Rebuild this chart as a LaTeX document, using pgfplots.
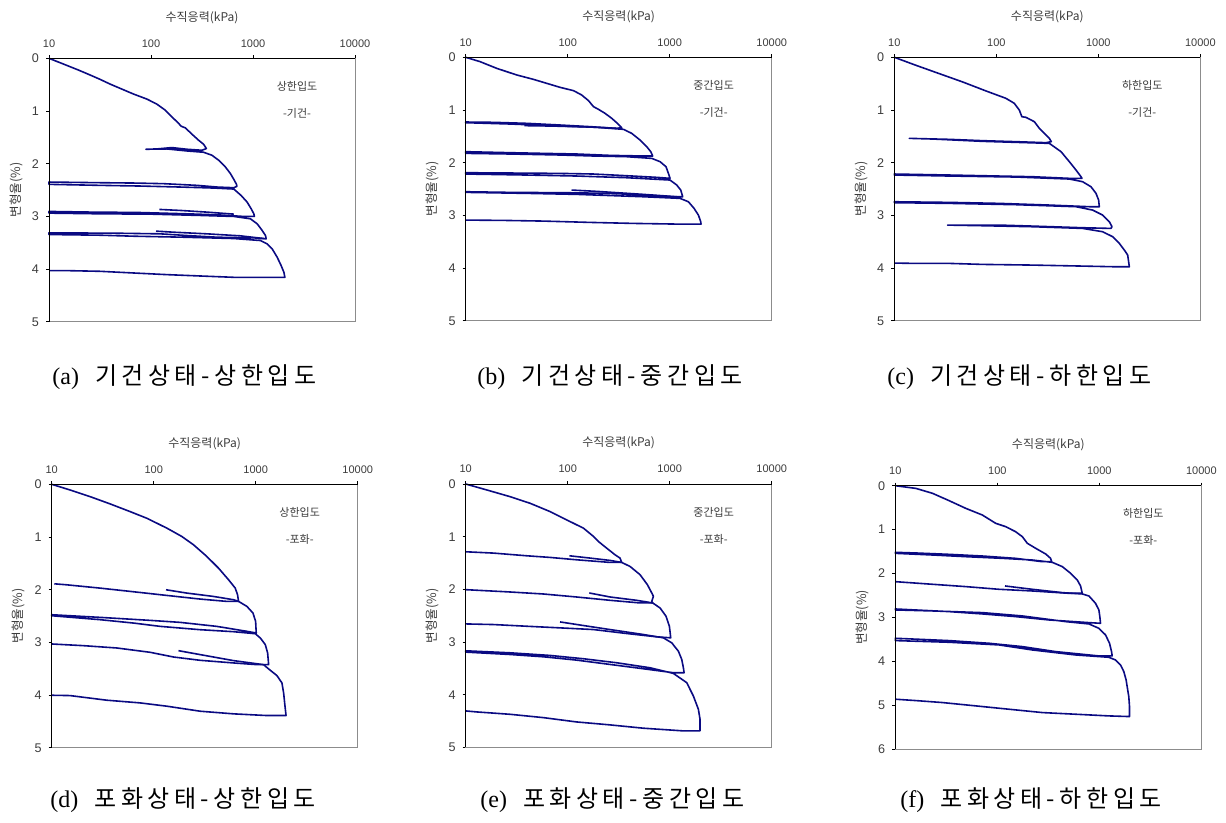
\documentclass[border=0pt]{standalone}
\usepackage{fontspec}
\setmainfont{Liberation Sans}
\newfontfamily\kr{Noto Sans CJK KR}
\newfontfamily\capkr[LetterSpace=19]{Noto Sans CJK KR}
\newfontfamily\capserif{Liberation Serif}
\usepackage{pgfplots}
\pgfplotsset{compat=1.18}
\definecolor{navy}{RGB}{10,10,130}
\definecolor{txt}{RGB}{60,60,60}
\pgfplotsset{
  mypanel/.style={
    scale only axis, width=153pt, height=131.75pt,
    xmin=10, xmax=10000, ymin=0, y dir=reverse,
    xtick={10,100,1000,10000}, xticklabels={10,100,1000,10000},
    xminorticks=false,
    tick align=outside, xtick pos=right, xticklabel pos=right, ytick pos=left,
    major tick length=1.5pt,
    tick style={black, line width=0.4pt},
    axis line style={draw=black!45, line width=0.4pt},
    xticklabel style={font=\fontsize{5.5}{6}\selectfont, text=txt, yshift=0.5pt},
    yticklabel style={font=\fontsize{6.3}{7}\selectfont, text=txt},
    /pgf/number format/assume math mode=true,
    clip=false,
  },
  mycurve/.style={navy, line width=0.8pt, line join=round, mark=none},
}
\newcommand{\decor}[4]{% ymax, name, state, ymid
  \draw[black, line width=0.5pt] (axis cs:10,0) -- (axis cs:10000,0);
  \draw[black, line width=0.5pt] (axis cs:10,0) -- (axis cs:10,#1);
  \path (axis cs:316.2,0) ++(0pt,20.5pt) node[font=\kr\fontsize{6}{7}\selectfont, text=txt] {수직응력(kPa)};
  \path (axis cs:10,#4) ++(-16.5pt,0pt) node[rotate=90, font=\kr\fontsize{6.3}{7}\selectfont, text=txt] {변형율(\%)};
  \path (axis cs:10,0) ++(124pt,-14pt) node[font=\kr\fontsize{5.5}{6}\selectfont, text=txt] {#2};
  \path (axis cs:10,0) ++(124pt,-27.5pt) node[font=\kr\fontsize{5.5}{6}\selectfont, text=txt] {-#3-};
}
\newcommand{\pcap}[2]{{\fontsize{12}{14}\selectfont\capserif (#1)\hspace{8pt}\capkr #2}}
\begin{document}
\begin{tikzpicture}
\useasboundingbox (0,0) rectangle (613pt,-411.5pt);

% ---------------- (a)
\begin{axis}[xmode=log, mypanel, at={(24.5pt,-29.15pt)}, anchor=north west, ymax=5, ytick={0,1,2,3,4,5}]
\addplot[mycurve] coordinates {(10,0) (13.8,0.108) (19.4,0.222) (25.3,0.317) (31.7,0.40) (39.7,0.489) (49.9,0.571) (67.5,0.679) (91.2,0.774) (114,0.869) (138,0.984) (160,1.110) (187,1.237) (197,1.288) (217,1.320) (252,1.440) (293,1.555) (328,1.631) (349,1.713)
(316,1.745) (225,1.726) (160,1.694) (114,1.720) (89,1.726)
(143,1.72) (225,1.758) (328,1.783)
(396,1.840) (461,1.935) (536,2.062) (601,2.189) (648,2.297) (689,2.392) (695,2.43)
(648,2.456) (445,2.443) (282,2.411) (133,2.379) (67.5,2.367) (29.4,2.360) (10,2.348)
(10,2.392) (31.7,2.411) (78.3,2.424) (194,2.443) (412,2.462) (648,2.481)
(764,2.602) (875,2.728) (959,2.855) (1019,2.951) (1033,3.001)
(813,3.001) (445,2.970) (225,2.951) (72.6,2.925) (27.3,2.919) (10,2.906)
(10,2.938) (31.7,2.951) (98,2.957) (305,2.982) (648,3.001) (944,3.046)
(1099,3.141) (1231,3.268) (1325,3.363) (1346,3.426)
(1019,3.407) (445,3.395) (225,3.363) (123,3.331) (46.2,3.319) (10,3.312)
(10,3.344) (31.7,3.357) (67.5,3.376) (209,3.395) (648,3.420) (1183,3.458)
(1377,3.522) (1542,3.617) (1726,3.775) (1888,3.934) (2009,4.061) (2053,4.156)
(1377,4.156) (648,4.156) (305,4.131) (143,4.105) (78.3,4.080) (31.7,4.042) (14.9,4.029) (10,4.029)};
\addplot[mycurve] coordinates {(121,2.868) (194,2.887) (354,2.919) (648,2.957)};
\addplot[mycurve] coordinates {(112,3.28) (167,3.30) (354,3.331) (753,3.369) (1276,3.42)};
\decor{5}{상한입도}{기건}{2.5}
\end{axis}

% ---------------- (b)
\begin{axis}[xmode=log, mypanel, at={(232.85pt,-28.65pt)}, anchor=north west, ymax=5, ytick={0,1,2,3,4,5}]
\addplot[mycurve] coordinates {(10,0) (13.8,0.082) (20.1,0.209) (31.6,0.335) (46,0.418) (62.2,0.494) (84.1,0.570) (114,0.633) (137,0.715) (160,0.823) (179,0.937) (200,0.987) (232,1.063) (270,1.158) (307,1.253) (338,1.335)
(302,1.348) (166,1.316) (84.1,1.285) (39.6,1.253) (18.7,1.234) (10,1.228)
(10,1.241) (27.2,1.266) (84.1,1.304) (192,1.329) (352,1.367)
(424,1.443) (512,1.570) (595,1.696) (652,1.791) (681,1.873)
(552,1.873) (260,1.861) (122,1.835) (57.7,1.823) (27.2,1.810) (10,1.791)
(10,1.823) (27.2,1.835) (84.1,1.854) (179,1.873) (378,1.886) (667,1.918)
(804,1.981) (920,2.076) (971,2.203) (1007,2.297)
(747,2.278) (378,2.247) (179,2.215) (84.1,2.203) (27.2,2.196) (10,2.190)
(10,2.215) (39.6,2.234) (122,2.253) (378,2.285) (1007,2.329)
(1172,2.424) (1283,2.519) (1341,2.646)
(1086,2.646) (552,2.614) (260,2.582) (97.7,2.570) (27.2,2.563) (10,2.551)
(10,2.563) (39.6,2.582) (122,2.601) (552,2.646) (1262,2.677)
(1524,2.741) (1733,2.867) (1911,2.994) (2014,3.120) (2028,3.165)
(1172,3.165) (440,3.152) (166,3.133) (57.7,3.108) (23.4,3.095) (10,3.089)};
\addplot[mycurve] coordinates {(37.6,1.297) (67.1,1.304) (166,1.323) (302,1.348)};
\addplot[mycurve] coordinates {(109,2.519) (192,2.544) (552,2.601) (1172,2.646)};
\decor{5}{중간입도}{기건}{2.5}
\end{axis}

% ---------------- (c)
\begin{axis}[xmode=log, mypanel, at={(447.15pt,-28.65pt)}, anchor=north west, ymax=5, ytick={0,1,2,3,4,5}]
\addplot[mycurve] coordinates {(10,0) (16.3,0.152) (27.6,0.310) (46.8,0.468) (79.3,0.639) (124,0.778) (150,0.873) (168,1.0) (178,1.127) (195,1.139) (236,1.222) (264,1.348) (296,1.443) (331,1.538) (346,1.601)
(307,1.620) (156,1.601) (73.5,1.582) (34.6,1.557) (14.0,1.538)
(23.8,1.551) (73.5,1.595) (156,1.614) (331,1.633)
(431,1.791) (520,1.981) (604,2.139) (676,2.266) (692,2.297)
(520,2.297) (227,2.266) (73.5,2.247) (34.6,2.234) (10,2.215)
(10,2.234) (34.6,2.253) (156,2.272) (520,2.310)
(702,2.361) (847,2.456) (949,2.582) (1007,2.709) (1023,2.835)
(817,2.835) (331,2.804) (107,2.772) (34.6,2.753) (10,2.741)
(10,2.759) (34.6,2.772) (156,2.797) (604,2.835)
(879,2.899) (1102,2.994) (1282,3.120) (1362,3.215) (1330,3.247)
(702,3.234) (227,3.203) (107,3.184) (50.4,3.184) (33.3,3.184)
(73.5,3.196) (227,3.215) (702,3.247)
(1102,3.310) (1384,3.405) (1608,3.532) (1800,3.658) (1941,3.753) (1983,3.880) (2014,3.975)
(1489,3.975) (702,3.962) (227,3.943) (73.5,3.930) (34.6,3.911) (16.3,3.911) (10,3.905)};
\decor{5}{하한입도}{기건}{2.5}
\end{axis}

% ---------------- (d)
\begin{axis}[xmode=log, mypanel, at={(25.85pt,-242.15pt)}, anchor=north west, ymax=5, ytick={0,1,2,3,4,5}]
\addplot[mycurve] coordinates {(10,0) (15.1,0.107) (23.8,0.234) (37.4,0.372) (58.7,0.518) (85.6,0.644) (135,0.833) (189,0.991) (246,1.149) (332,1.370) (432,1.591) (542,1.812) (630,1.970) (664,2.096) (679,2.222)
(522,2.222) (286,2.178) (135,2.109) (63.4,2.039) (29.8,1.970) (14.0,1.907) (10.6,1.888)};
\addplot[mycurve] coordinates {(132,2.001) (211,2.064) (386,2.128) (607,2.191) (679,2.222)
(820,2.317) (940,2.443) (998,2.601) (1012,2.822)
(820,2.790) (416,2.696) (182,2.620) (92.3,2.582) (29.8,2.525) (10,2.475)
(10,2.494) (29.8,2.569) (63.4,2.633) (116,2.696) (286,2.759) (607,2.797) (990,2.835)
(1110,2.917) (1242,3.043) (1309,3.201) (1339,3.422)
(1028,3.422) (607,3.390) (286,3.340) (156,3.277) (92.3,3.188) (43.5,3.106) (20.5,3.062) (10,3.030)};
\addplot[mycurve] coordinates {(175,3.157) (286,3.232) (607,3.346) (1194,3.422) (1339,3.504) (1614,3.630) (1808,3.769) (1878,3.958) (1922,4.148) (1983,4.388)
(1289,4.388) (607,4.356) (286,4.306) (135,4.211) (73.6,4.148) (34.7,4.097) (15.1,4.009) (10,4.003)};
\decor{5}{상한입도}{포화}{2.5}
\end{axis}

% ---------------- (e)
\begin{axis}[xmode=log, mypanel, at={(232.85pt,-242pt)}, anchor=north west, ymax=5, ytick={0,1,2,3,4,5}]
\addplot[mycurve] coordinates {(10,0) (16.1,0.113) (27.2,0.240) (42.8,0.366) (67.1,0.523) (97.7,0.681) (143,0.839) (179,0.996) (200,1.091) (241,1.217) (291,1.343) (326,1.406) (338,1.488)
(260,1.488) (122,1.438) (67.1,1.393) (39.6,1.362) (18.7,1.311) (10,1.286)};
\addplot[mycurve] coordinates {(104,1.362) (166,1.406) (260,1.450) (338,1.488) (408,1.564) (512,1.721) (604,1.910) (667,2.068) (692,2.131) (667,2.226) (681,2.257)
(512,2.257) (260,2.207) (122,2.144) (57.7,2.087) (27.2,2.049) (10,2.005)};
\addplot[mycurve] coordinates {(163,2.068) (260,2.144) (474,2.207) (681,2.257) (804,2.352) (920,2.509) (993,2.699) (1023,2.919)
(747,2.900) (378,2.837) (179,2.762) (84.1,2.730) (39.6,2.699) (18.7,2.667) (10,2.655)};
\addplot[mycurve] coordinates {(84.1,2.617) (143,2.686) (260,2.762) (552,2.856) (867,2.919) (1047,3.014) (1216,3.172) (1312,3.329) (1362,3.487) (1384,3.581)
(1086,3.581) (552,3.506) (260,3.424) (122,3.342) (57.7,3.279) (27.2,3.235) (10,3.190)
(10,3.165) (27.2,3.203) (67.1,3.253) (143,3.316) (302,3.392) (641,3.487) (1086,3.594)
(1469,3.770) (1706,4.023) (1911,4.275) (1983,4.464) (1983,4.685)
(1362,4.685) (552,4.634) (260,4.571) (122,4.515) (57.7,4.433) (27.2,4.370) (12.8,4.325) (10,4.306)};
\decor{5}{중간입도}{포화}{2.5}
\end{axis}

% ---------------- (f)
\begin{axis}[xmode=log, mypanel, at={(447.65pt,-242.85pt)}, anchor=north west, ymax=6, ytick={0,1,2,3,4,5,6}]
\addplot[mycurve] coordinates {(10,0) (15.9,0.061) (23.2,0.174) (33.7,0.341) (49.1,0.516) (71.4,0.668) (96.5,0.857) (121,0.933) (151,1.047) (176,1.161) (197,1.312) (238,1.426) (298,1.555) (333,1.654) (341,1.730)
(276,1.730) (151,1.654) (71.4,1.601) (33.7,1.563) (15.9,1.532) (10,1.517)
(10,1.540) (23.2,1.578) (49.1,1.616) (112,1.654) (220,1.692) (346,1.745)
(434,1.843) (523,1.995) (608,2.147) (655,2.283) (680,2.450)
(504,2.450) (220,2.397) (104,2.359) (49.1,2.298) (23.2,2.245) (10,2.185)};
\addplot[mycurve] coordinates {(119,2.283) (220,2.359) (434,2.435) (680,2.465) (791,2.511) (918,2.678) (990,2.829) (1012,2.981) (1027,3.133)
(791,3.118) (321,3.057) (151,2.981) (71.4,2.920) (33.7,2.867) (10,2.807)
(10,2.829) (23.2,2.852) (71.4,2.890) (176,2.966) (468,3.095) (791,3.148)
(990,3.247) (1151,3.398) (1259,3.588) (1318,3.778) (1337,3.876)
(990,3.876) (373,3.778) (176,3.664) (83.2,3.588) (33.7,3.527) (10,3.474)
(10,3.527) (33.7,3.565) (104,3.626) (220,3.740) (585,3.854) (1239,3.907)
(1442,3.968) (1614,4.081) (1738,4.233) (1832,4.423) (1875,4.574) (1946,4.802) (1977,5.029) (1977,5.257)
(1239,5.242) (585,5.204) (276,5.166) (130,5.090) (61.5,5.014) (29.0,4.938) (15.9,4.893) (10,4.862)};
\decor{6}{하한입도}{포화}{3}
\end{axis}

% captions
\node[anchor=west, inner sep=0pt] at (26pt,-188.75pt) {\pcap{a}{기건상태-상한입도}};
\node[anchor=west, inner sep=0pt] at (238.5pt,-188.75pt) {\pcap{b}{기건상태-중간입도}};
\node[anchor=west, inner sep=0pt] at (443.5pt,-188.75pt) {\pcap{c}{기건상태-하한입도}};
\node[anchor=west, inner sep=0pt] at (25pt,-400pt) {\pcap{d}{포화상태-상한입도}};
\node[anchor=west, inner sep=0pt] at (240pt,-400pt) {\pcap{e}{포화상태-중간입도}};
\node[anchor=west, inner sep=0pt] at (450pt,-400pt) {\pcap{f}{포화상태-하한입도}};
\end{tikzpicture}
\end{document}
